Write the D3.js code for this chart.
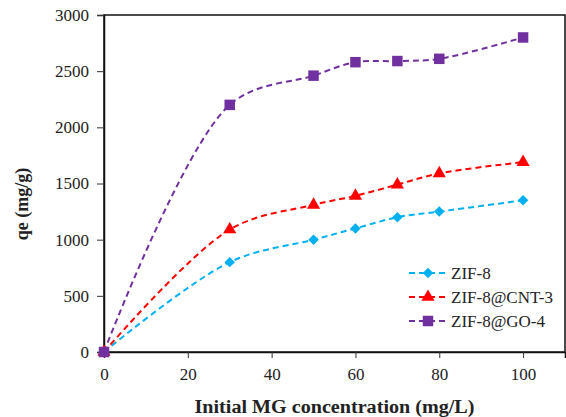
<!DOCTYPE html>
<html>
<head>
<meta charset="utf-8">
<script src="https://cdn.jsdelivr.net/npm/d3@7"></script>
<style>
	body { margin: 0; background: #fff; }
	svg text { font-family: "Liberation Serif", "Times New Roman", Times, serif; fill: #222; }
</style>
</head>
<body>
<div id="chart"></div>
<script>
// Data
const concentrations = [0, 30, 50, 60, 70, 80, 100];
const zif8 = [0, 800, 1000, 1100, 1200, 1250, 1350];
const zifCnt = [0, 1090, 1310, 1390, 1490, 1590, 1690];
const zifGo = [0, 2200, 2460, 2580, 2590, 2610, 2800];
const seriesNames = ['ZIF-8', 'ZIF-8@CNT-3', 'ZIF-8@GO-4'];
const xTicks = [0, 20, 40, 60, 80, 100];
const yTicks = [0, 500, 1000, 1500, 2000, 2500, 3000];

const width = 566, height = 417;
const margin = { top: 15, right: 1, bottom: 65, left: 104 };
const serif = '"Liberation Serif", "Times New Roman", Times, serif';

const svg = d3.select('#chart').append('svg')
	.attr('width', width)
	.attr('height', height)
	.attr('font-family', serif);

const x = d3.scaleLinear()
	.domain([0, 110])
	.range([margin.left, width - margin.right]);

const y = d3.scaleLinear()
	.domain([0, 3000])
	.range([height - margin.bottom, margin.top]);

// frame
svg.append('rect')
	.attr('x', x(0))
	.attr('y', y(3000))
	.attr('width', x(110) - x(0))
	.attr('height', y(0) - y(3000))
	.attr('fill', 'none')
	.attr('stroke', '#111')
	.attr('stroke-width', 1.5);

// axes
const xAxis = d3.axisBottom(x)
	.tickValues(xTicks)
	.tickFormat(d3.format('d'))
	.tickSize(6)
	.tickPadding(10);

const yAxis = d3.axisLeft(y)
	.tickValues(yTicks)
	.tickFormat(d3.format('d'))
	.tickSize(7)
	.tickPadding(8);

const gx = svg.append('g')
	.attr('transform', `translate(0, ${y(0)})`)
	.call(xAxis);

const gy = svg.append('g')
	.attr('transform', `translate(${x(0)}, 0)`)
	.call(yAxis);

[gx, gy].forEach(g => {
	g.attr('font-family', serif).attr('font-size', 17);
	g.select('.domain').attr('stroke', '#111').attr('stroke-width', 1.5);
	g.selectAll('.tick line').attr('stroke', '#333');
	g.selectAll('.tick text').attr('fill', '#333');
});

// axis titles
svg.append('text')
	.attr('x', (x(0) + x(110)) / 2)
	.attr('y', 413)
	.attr('text-anchor', 'middle')
	.attr('font-size', 18)
	.attr('font-weight', 'bold')
	.attr('textLength', 280)
	.attr('lengthAdjust', 'spacingAndGlyphs')
	.text('Initial MG concentration (mg/L)');

svg.append('text')
	.attr('transform', 'translate(28, 204) rotate(-90)')
	.attr('text-anchor', 'middle')
	.attr('font-size', 18)
	.attr('font-weight', 'bold')
	.text('qe (mg/g)');

// series
const series = [
	{ name: seriesNames[0], values: zif8, color: '#00b0f0', symbol: d3.symbolDiamond2, size: 70 },
	{ name: seriesNames[1], values: zifCnt, color: '#ff0000', symbol: d3.symbolTriangle, size: 75 },
	{ name: seriesNames[2], values: zifGo, color: '#7030a0', symbol: d3.symbolSquare, size: 110 }
];

const line = d3.line()
	.x(d => x(d[0]))
	.y(d => y(d[1]))
	.curve(d3.curveCatmullRom.alpha(0.5));

series.forEach(s => {
	const pts = concentrations.map((c, i) => [c, s.values[i]]);

	svg.append('path')
		.datum(pts)
		.attr('d', line)
		.attr('fill', 'none')
		.attr('stroke', s.color)
		.attr('stroke-width', 2)
		.attr('stroke-dasharray', '6,4');

	svg.append('g').selectAll('path')
		.data(pts)
		.join('path')
		.attr('transform', d => `translate(${x(d[0])}, ${y(d[1])})`)
		.attr('d', d3.symbol(s.symbol, s.size))
		.attr('fill', s.color);
});

// legend
const legend = svg.append('g')
	.attr('transform', 'translate(409, 273)');

series.forEach((s, i) => {
	const row = legend.append('g')
		.attr('transform', `translate(0, ${i * 24})`);

	row.append('line')
		.attr('x1', 0).attr('x2', 38)
		.attr('stroke', s.color)
		.attr('stroke-width', 2)
		.attr('stroke-dasharray', '6,4');

	row.append('path')
		.attr('transform', 'translate(19, 0)')
		.attr('d', d3.symbol(s.symbol, s.size))
		.attr('fill', s.color);

	row.append('text')
		.attr('x', 42)
		.attr('dy', '0.35em')
		.attr('font-size', 17)
		.text(s.name);
});
</script>
</body>
</html>
